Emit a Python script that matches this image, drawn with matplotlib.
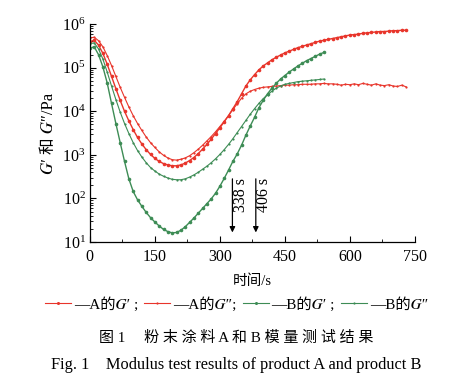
import numpy as np
import matplotlib
matplotlib.use("Agg")
import matplotlib.pyplot as plt
from matplotlib.lines import Line2D
from matplotlib.ticker import LogLocator, MultipleLocator

plt.rcParams['font.family'] = ['Liberation Serif', 'Noto Sans CJK SC', 'STIXGeneral']
plt.rcParams['mathtext.fontset'] = 'stix'

# ---- data (log10 of modulus in Pa) ----
t_A = list(range(0, 740, 10))
A_Gp_log = [5.60, 5.63, 5.52, 5.33, 5.08, 4.80, 4.52, 4.25, 4.00, 3.78,
            3.58, 3.40, 3.25, 3.12, 3.01, 2.92, 2.85, 2.80, 2.77, 2.75,
            2.75, 2.77, 2.81, 2.87, 2.94, 3.03, 3.13, 3.24, 3.36, 3.49,
            3.62, 3.76, 3.90, 4.06, 4.22, 4.40, 4.58, 4.72, 4.84, 4.95,
            5.04, 5.11, 5.18, 5.24, 5.29, 5.34, 5.38, 5.42, 5.46, 5.49,
            5.52, 5.55, 5.58, 5.61, 5.63, 5.65, 5.67, 5.69, 5.71, 5.73,
            5.75, 5.76, 5.77, 5.79, 5.80, 5.81, 5.82, 5.83, 5.83, 5.84,
            5.85, 5.85, 5.86, 5.86]
A_Gpp_log = [5.68, 5.70, 5.62, 5.48, 5.28, 5.05, 4.80, 4.55, 4.32, 4.10,
             3.90, 3.72, 3.56, 3.41, 3.28, 3.17, 3.07, 2.99, 2.93, 2.89,
             2.88, 2.90, 2.93, 2.98, 3.05, 3.13, 3.22, 3.32, 3.42, 3.53,
             3.65, 3.77, 3.90, 4.04, 4.17, 4.30, 4.40, 4.46, 4.50, 4.53,
             4.55, 4.56, 4.57, 4.58, 4.59, 4.60, 4.60, 4.61, 4.61, 4.62,
             4.62, 4.62, 4.63, 4.63, 4.64, 4.63, 4.63, 4.62, 4.60, 4.62,
             4.61, 4.63, 4.61, 4.64, 4.62, 4.60, 4.63, 4.60, 4.59, 4.61,
             4.58, 4.57, 4.60, 4.56]
t_B = list(range(0, 550, 10))
B_Gp_log = [5.45, 5.48, 5.30, 5.02, 4.65, 4.18, 3.72, 3.28, 2.85, 2.45,
            2.16, 1.97, 1.82, 1.68, 1.56, 1.46, 1.37, 1.29, 1.24, 1.21,
            1.22, 1.27, 1.35, 1.45, 1.55, 1.66, 1.77, 1.88, 1.99, 2.12,
            2.28, 2.46, 2.65, 2.85, 3.02, 3.22, 3.45, 3.66, 3.86, 4.08,
            4.25, 4.40, 4.53, 4.64, 4.74, 4.82, 4.90, 4.97, 5.04, 5.10,
            5.16, 5.21, 5.26, 5.31, 5.35]
B_Gpp_log = [5.55, 5.57, 5.43, 5.20, 4.90, 4.58, 4.27, 3.98, 3.72, 3.49,
             3.28, 3.10, 2.95, 2.82, 2.71, 2.63, 2.56, 2.51, 2.47, 2.44,
             2.43, 2.43, 2.45, 2.49, 2.54, 2.60, 2.67, 2.74, 2.82, 2.91,
             3.01, 3.12, 3.24, 3.37, 3.51, 3.65, 3.79, 3.93, 4.06, 4.18,
             4.29, 4.38, 4.46, 4.53, 4.58, 4.62, 4.64, 4.66, 4.68, 4.69,
             4.70, 4.71, 4.72, 4.73, 4.74]

arrow_t = [329, 383]
arrow_labels = ['338 s', '406 s']
x_ticks = [0, 150, 300, 450, 600, 750]
legend_labels = ['—A的𝐺′ ;', '—A的𝐺″;', '—B的𝐺′ ;', '—B的𝐺″']

red = '#e8352b'
green = '#3d8c55'

fig = plt.figure(figsize=(4.73, 3.83), dpi=100)
ax = fig.add_axes([0.190, 0.368, 0.687, 0.569])

ax.plot(t_A, 10 ** np.array(A_Gp_log), color=red, lw=1.0, marker='o', ms=2.6, mew=0)
ax.plot(t_A, 10 ** np.array(A_Gpp_log), color=red, lw=0.8, marker='o', ms=1.6, mew=0)
ax.plot(t_B, 10 ** np.array(B_Gp_log), color=green, lw=1.0, marker='o', ms=2.6, mew=0)
ax.plot(t_B, 10 ** np.array(B_Gpp_log), color=green, lw=0.8, marker='o', ms=1.6, mew=0)

ax.set_yscale('log')
ax.set_ylim(10, 1e6)
ax.set_xlim(0, 750)
ax.set_xticks(x_ticks)
ax.xaxis.set_minor_locator(MultipleLocator(75))
ax.yaxis.set_major_locator(LogLocator(base=10, numticks=10))
ax.yaxis.set_minor_locator(LogLocator(base=10, subs=np.arange(2, 10), numticks=20))
ax.tick_params(which='both', direction='in', labelsize=11.5)
ax.tick_params(axis='x', pad=5)
ax.tick_params(axis='y', pad=3)
ax.tick_params(which='major', length=4, width=0.8)
ax.tick_params(which='minor', length=2, width=0.6)
ax.tick_params(axis='y', which='minor', length=2.5)
for s in ['top', 'right']:
    ax.spines[s].set_visible(False)
for s in ['left', 'bottom']:
    ax.spines[s].set_linewidth(0.9)

for xa, lab in zip(arrow_t, arrow_labels):
    ax.annotate('', xy=(xa, 10 ** 1.22), xytext=(xa, 10 ** 2.45),
                arrowprops=dict(arrowstyle='-|>', color='black', lw=0.9,
                                mutation_scale=8, shrinkA=0, shrinkB=0))
    ax.text(xa + 20, 10 ** 2.47, lab, rotation=90, ha='center', va='top',
            fontsize=11.5)

ax.set_xlabel('时间/s', fontsize=10.5, labelpad=7)
ax.set_ylabel('𝐺′ 和 𝐺″/Pa', fontsize=12, labelpad=4)

handles = [Line2D([], [], color=red, lw=0.8, marker='o', ms=2.2, mew=0),
           Line2D([], [], color=red, lw=0.8, marker='o', ms=1.6, mew=0),
           Line2D([], [], color=green, lw=0.8, marker='o', ms=2.2, mew=0),
           Line2D([], [], color=green, lw=0.8, marker='o', ms=1.6, mew=0)]
fig.legend(handles, legend_labels, loc='center', bbox_to_anchor=(0.5, 0.205), ncol=4,
           frameon=False, fontsize=11, handlelength=1.7, handletextpad=0.2,
           columnspacing=0.4)

fig.text(0.5, 0.117, '图 1     粉 末 涂 料 A 和 B 模 量 测 试 结 果', ha='center', va='center',
         fontsize=10.8)
fig.text(0.5, 0.047, 'Fig. 1    Modulus test results of product A and product B',
         ha='center', va='center', fontsize=11.8)

fig.savefig('out.png', dpi=100)
